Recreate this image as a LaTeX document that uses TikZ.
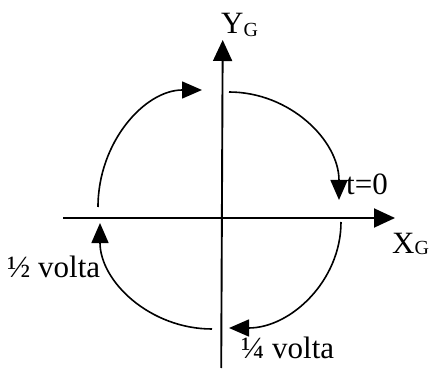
\documentclass[tikz,border=0pt]{standalone}
\usepackage{fontspec}
\setmainfont{Liberation Serif}
\usetikzlibrary{arrows.meta}
\begin{document}
\begin{tikzpicture}[x=1bp,y=1bp,
  axisline/.style={line width=1.9bp,-{Triangle[length=21bp,width=19bp]}},
  turnarc/.style={line width=1.6bp,-{Triangle[length=20bp,width=17bp]}},
  lbl/.style={anchor=base west,inner sep=0pt,font=\fontsize{31bp}{31bp}\selectfont}]
\useasboundingbox (0,0) rectangle (430,370);
% axes
\coordinate (yb) at (221.2,2);
\coordinate (yt) at (222.7,330);
\coordinate (xl) at (63,152);
\coordinate (xr) at (395,152);
\draw[axisline] (yb) -- (yt);
\draw[axisline] (xl) -- (xr);
% arcs
\coordinate (a1) at (229,278);
\coordinate (a2) at (341,148);
\coordinate (a3) at (212,41);
\coordinate (a4) at (98,163);
\draw[turnarc] (a1) arc[start angle=90,end angle=0,x radius=110,y radius=108];
\draw[turnarc] (a2) arc[start angle=0,end angle=-90,x radius=112,y radius=106];
\draw[turnarc] (a3) arc[start angle=-90,end angle=-180,x radius=112,y radius=106];
\draw[turnarc] (a4) arc[start angle=180,end angle=90,x radius=104,y radius=117];
% labels
\node[lbl] (ylab) at (221,337) {Y\raisebox{-3bp}{\fontsize{20bp}{20bp}\selectfont G}};
\node[lbl] (xlab) at (392,117) {X\raisebox{-1.5bp}{\fontsize{20bp}{20bp}\selectfont G}};
\node[lbl] (t0) at (346,176) {t=0};
\node[lbl] (half) at (7,93) {½ volta};
\node[lbl] (quarter) at (241,12) {¼ volta};
\end{tikzpicture}
\end{document}
